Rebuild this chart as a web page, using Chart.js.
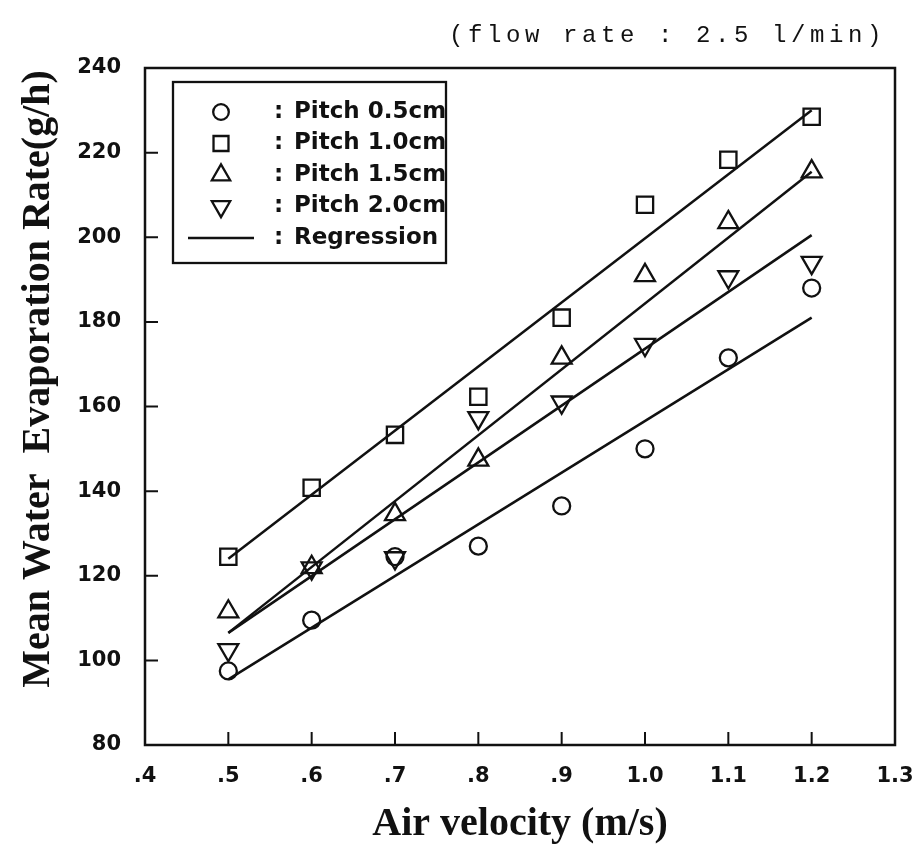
<!DOCTYPE html>
<html>
<head>
<meta charset="utf-8">
<script src="https://cdn.jsdelivr.net/npm/chart.js@4.4.1/dist/chart.umd.min.js"></script>
<style>
    html, body { margin: 0; padding: 0; background: #fff; }
    #wrap { position: relative; width: 922px; height: 849px; }
    #note {
        position: absolute; top: 22px; left: 449px;
        font: 24px "Liberation Mono", monospace; letter-spacing: 4.6px;
        color: #111; white-space: pre;
    }
</style>
</head>
<body>
<div id="wrap">
    <canvas id="evapChart" width="922" height="849"></canvas>
    <div id="note">(flow rate : 2.5 l/min)</div>
</div>
<script>
// Measured points (air velocity, m/s)
var velocity = [0.5, 0.6, 0.7, 0.8, 0.9, 1.0, 1.1, 1.2];
// Mean water evaporation rate (g/h) per pitch
var pitch05 = [97.5, 109.5, 124.5, 127, 136.5, 150, 171.5, 188];
var pitch10 = [124.5, 140.8, 153.3, 162.3, 181, 207.7, 218.3, 228.5];
var pitch15 = [111.5, 122, 134.5, 147.4, 171.5, 191, 203.5, 215.5];
var pitch20 = [102.5, 121.8, 124.2, 157.3, 161, 174.6, 190.6, 194];

// Regression lines, drawn from first to last velocity
var regX = [0.5, 1.2];
var reg05 = [95.5, 181];
var reg10 = [124, 230];
var reg15 = [106.5, 215.5];
var reg20 = [106.5, 200.5];

var seriesLabels = ['Pitch 0.5cm', 'Pitch 1.0cm', 'Pitch 1.5cm', 'Pitch 2.0cm'];
var regressionLabel = 'Regression';
var xTickLabels = ['.4', '.5', '.6', '.7', '.8', '.9', '1.0', '1.1', '1.2', '1.3'];
var yTitle = 'Mean Water  Evaporation Rate(g/h)';
var xTitle = 'Air velocity (m/s)';

var ink = '#111';
var markers = [
    { pointStyle: 'circle', radius: 8.5, rotation: 0 },
    { pointStyle: 'rect', radius: 11.5, rotation: 0 },
    { pointStyle: 'triangle', radius: 11.5, rotation: 0 },
    { pointStyle: 'triangle', radius: 11.5, rotation: 180 }
];

function toPoints(xs, ys) {
    return xs.map((x, i) => ({ x: x, y: ys[i] }));
}

var measured = [pitch05, pitch10, pitch15, pitch20];
var regressions = [reg05, reg10, reg15, reg20];

var datasets = [];
measured.forEach((vals, i) => {
    datasets.push({
        label: seriesLabels[i],
        data: toPoints(velocity, vals),
        showLine: false,
        pointStyle: markers[i].pointStyle,
        pointRadius: markers[i].radius,
        pointRotation: markers[i].rotation,
        pointBorderWidth: 2.3,
        borderColor: ink,
        backgroundColor: 'rgba(0,0,0,0)'
    });
});
regressions.forEach(vals => {
    datasets.push({
        label: regressionLabel,
        data: toPoints(regX, vals),
        showLine: true,
        pointRadius: 0,
        borderColor: ink,
        borderWidth: 2.5,
        fill: false
    });
});

// Frame box and inward tick marks
var framePlugin = {
    id: 'frame',
    afterDraw(chart) {
        var ctx = chart.ctx, a = chart.chartArea;
        var xs = chart.scales.x, ys = chart.scales.y;
        ctx.save();
        ctx.strokeStyle = ink;
        ctx.lineWidth = 2.5;
        ctx.strokeRect(a.left, a.top, a.right - a.left, a.bottom - a.top);
        ctx.lineWidth = 2;
        ctx.beginPath();
        xs.ticks.forEach(t => {
            var px = xs.getPixelForValue(t.value);
            if (px > a.left + 2 && px < a.right - 2) {
                ctx.moveTo(px, a.bottom);
                ctx.lineTo(px, a.bottom - 13);
            }
        });
        ys.ticks.forEach(t => {
            var py = ys.getPixelForValue(t.value);
            if (py > a.top + 2 && py < a.bottom - 2) {
                ctx.moveTo(a.left, py);
                ctx.lineTo(a.left + 13, py);
            }
        });
        ctx.stroke();
        ctx.restore();
    }
};

// Boxed legend inside the plot area
var legendPlugin = {
    id: 'boxLegend',
    afterDraw(chart) {
        var ctx = chart.ctx, a = chart.chartArea;
        var left = a.left + 28, top = a.top + 14, w = 273, h = 181;
        var rowY = top + 30, rowGap = 31.5;
        var markX = left + 48, colonX = left + 101, textX = left + 121;
        ctx.save();
        ctx.strokeStyle = ink;
        ctx.fillStyle = ink;
        ctx.lineWidth = 2.3;
        ctx.strokeRect(left, top, w, h);
        ctx.font = 'bold 23px "DejaVu Sans"';
        ctx.textBaseline = 'middle';
        ctx.textAlign = 'left';
        seriesLabels.forEach((lab, i) => {
            var y = rowY + i * rowGap;
            ctx.fillStyle = 'rgba(0,0,0,0)';
            Chart.helpers.drawPoint(ctx, {
                pointStyle: markers[i].pointStyle,
                radius: markers[i].radius * 0.92,
                rotation: markers[i].rotation,
                borderWidth: 2.3
            }, markX, y);
            ctx.fillStyle = ink;
            ctx.fillText(':', colonX, y);
            ctx.fillText(lab, textX, y);
        });
        var ry = rowY + 4 * rowGap;
        ctx.beginPath();
        ctx.moveTo(left + 15, ry);
        ctx.lineTo(left + 81, ry);
        ctx.stroke();
        ctx.fillText(':', colonX, ry);
        ctx.fillText(regressionLabel, textX, ry);
        ctx.restore();
    }
};

// Rotated y-axis title
var yTitlePlugin = {
    id: 'yTitle',
    afterDraw(chart) {
        var ctx = chart.ctx;
        ctx.save();
        ctx.translate(39, 379);
        ctx.rotate(-Math.PI / 2);
        ctx.font = 'bold 40px "Liberation Serif"';
        ctx.fillStyle = ink;
        ctx.textAlign = 'center';
        ctx.textBaseline = 'middle';
        ctx.fillText(yTitle, 0, 0);
        ctx.restore();
    }
};

var ctx = document.getElementById('evapChart').getContext('2d');
var chart = new Chart(ctx, {
    type: 'scatter',
    data: { datasets: datasets },
    options: {
        responsive: false,
        animation: false,
        devicePixelRatio: 1,
        layout: { padding: { top: 68, right: 27, left: 0, bottom: 0 } },
        plugins: {
            legend: { display: false },
            tooltip: { enabled: false }
        },
        scales: {
            x: {
                type: 'linear',
                min: 0.4,
                max: 1.3,
                grid: { display: false },
                border: { display: false },
                ticks: {
                    stepSize: 0.1,
                    padding: 11,
                    color: ink,
                    font: { family: 'DejaVu Sans', size: 21, weight: 'bold' },
                    callback: v => xTickLabels[Math.round((v - 0.4) * 10)]
                },
                title: {
                    display: true,
                    text: xTitle,
                    color: ink,
                    font: { family: 'Liberation Serif', size: 40, weight: 'bold' },
                    padding: { top: 0, bottom: 0 }
                },
                afterFit: s => {
                    s.height = 104;
                    s.paddingLeft = 0;
                    s.paddingRight = 0;
                }
            },
            y: {
                min: 80,
                max: 240,
                grid: { display: false },
                border: { display: false },
                ticks: {
                    stepSize: 20,
                    padding: 16,
                    color: ink,
                    font: { family: 'DejaVu Sans', size: 21, weight: 'bold' }
                },
                afterFit: s => {
                    s.width = 145;
                    s.paddingTop = 0;
                    s.paddingBottom = 0;
                }
            }
        }
    },
    plugins: [framePlugin, legendPlugin, yTitlePlugin]
});
</script>
</body>
</html>
